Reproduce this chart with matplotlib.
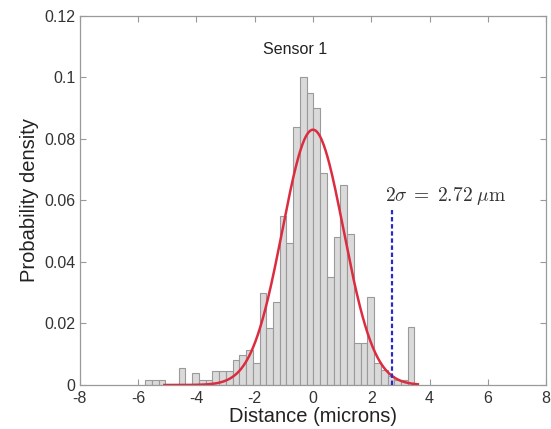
import numpy as np
import matplotlib
matplotlib.use("Agg")
import matplotlib.pyplot as plt

# Histogram of measured distances (probability density per bin)
bin_lo = -5.764
bin_width = 0.2312
density = [
    0.0016, 0.0016, 0.0016, 0.0, 0.0, 0.0055, 0.0, 0.004, 0.0016, 0.0016,
    0.0045, 0.0045, 0.0045, 0.008, 0.0098, 0.0114, 0.007, 0.030, 0.0185, 0.027,
    0.055, 0.046, 0.084, 0.100, 0.095, 0.090, 0.069, 0.035, 0.048, 0.065,
    0.049, 0.0137, 0.0137, 0.0287, 0.007, 0.005, 0.003, 0.0016, 0.0016, 0.019,
]

# Gaussian fit overlay
fit_peak = 0.083
fit_mean = 0.0
fit_sigma = 1.05
fit_range = (-5.1, 3.6)

# Two-sigma marker
two_sigma = 2.72
marker_top = 0.057

x_ticks = [-8, -6, -4, -2, 0, 2, 4, 6, 8]
y_ticks = [0, 0.02, 0.04, 0.06, 0.08, 0.1, 0.12]
y_tick_labels = ["0", "0.02", "0.04", "0.06", "0.08", "0.1", "0.12"]

plt.rcParams["font.family"] = ["Liberation Sans", "DejaVu Sans"]
plt.rcParams["mathtext.fontset"] = "cm"

fig = plt.figure(figsize=(5.51, 4.29), dpi=100)
ax = fig.add_axes([0.145, 0.1026, 0.846, 0.8604])

edges = bin_lo + bin_width * np.arange(len(density) + 1)
centers = 0.5 * (edges[:-1] + edges[1:])
ax.bar(centers, density, width=bin_width, align="center",
       facecolor="#dadada", edgecolor="#9a9a9a", linewidth=0.8, zorder=2)

xs = np.linspace(fit_range[0], fit_range[1], 400)
ys = fit_peak * np.exp(-(xs - fit_mean) ** 2 / (2 * fit_sigma ** 2))
ax.plot(xs, ys, color="#dc2c40", linewidth=1.8, zorder=3)

ax.plot([two_sigma, two_sigma], [0, marker_top], color="#2a2ac8",
        linestyle=(0, (2, 1.2)), linewidth=1.6, zorder=4)
ax.text(two_sigma - 0.26, marker_top + 0.0008,
        r"$2\sigma\;=\;2.72\;\mu\mathrm{m}$", fontsize=14, color="#333333",
        ha="left", va="bottom", zorder=5)

ax.text(-0.6, 0.109, "Sensor 1", fontsize=11.5, color="#222222",
        ha="center", va="center")

ax.set_xlim(-8, 8)
ax.set_ylim(0, 0.12)
ax.set_xticks(x_ticks)
ax.set_xticklabels([str(t) for t in x_ticks])
ax.set_yticks(y_ticks)
ax.set_yticklabels(y_tick_labels)
ax.tick_params(direction="in", top=True, right=True, length=4,
               labelsize=11.5, colors="#999999", labelcolor="#333333")
ax.tick_params(axis="x", pad=4)
ax.tick_params(axis="y", pad=3)
for s in ax.spines.values():
    s.set_color("#9a9a9a")
    s.set_linewidth(0.9)

ax.set_xlabel("Distance (microns)", fontsize=14.5, color="#222222", labelpad=1)
ax.set_ylabel("Probability density", fontsize=14.5, color="#222222", labelpad=4)

fig.savefig("out.png", dpi=100)
